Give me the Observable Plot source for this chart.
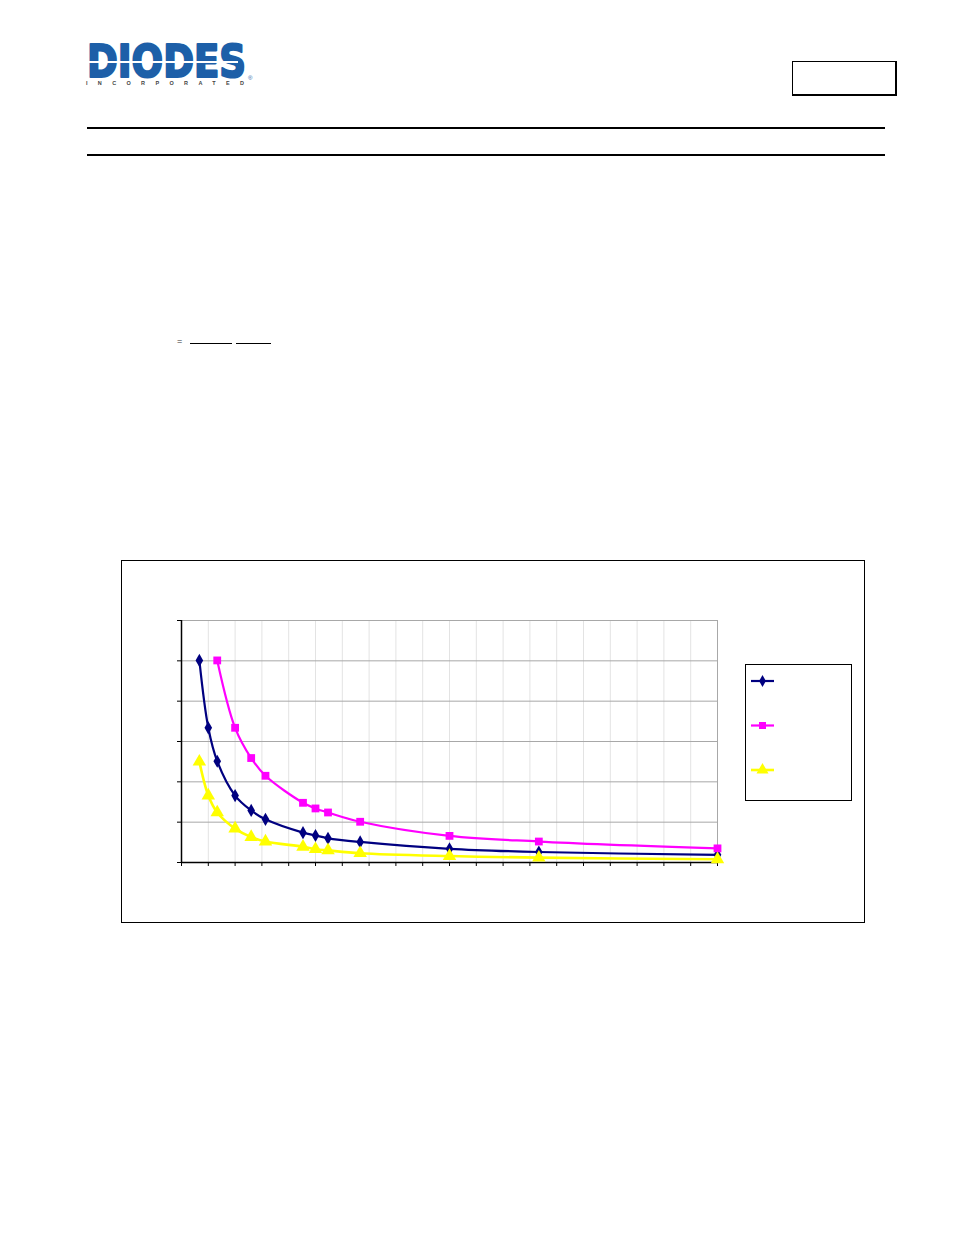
<!DOCTYPE html>
<html>
<head>
<meta charset="utf-8">
<script src="https://cdn.jsdelivr.net/npm/d3@7"></script>
<script src="https://cdn.jsdelivr.net/npm/@observablehq/plot@0.6"></script>
<style>
  html, body { margin: 0; padding: 0; background: #fff; }
  body { width: 954px; height: 1235px; position: relative; overflow: hidden; font-family: "Liberation Sans", Arial, sans-serif; }
  .abs { position: absolute; }
  #chartbox { position: absolute; left: 121px; top: 560px; width: 742px; height: 361px; border: 1px solid #000; }
  #chart { position: absolute; left: 0; top: 0; }
  #legend { position: absolute; left: 745px; top: 664px; width: 105px; height: 135px; border: 1px solid #000; background: #fff; }
</style>
</head>
<body>
<!-- logo -->
<svg class="abs" style="left:80px;top:16px;overflow:visible" width="190" height="86">
  <text font-family="DejaVu Sans, Liberation Sans, Arial" font-weight="bold">
    <tspan x="7" y="61" font-size="44" fill="#1d5fa8" stroke="#1d5fa8" stroke-width="2.2" stroke-linejoin="round" textLength="159" lengthAdjust="spacingAndGlyphs">DIODES</tspan>
    <tspan x="6" y="69" font-family="Liberation Sans, Arial" font-size="5.5" fill="#444" stroke="none" textLength="158" lengthAdjust="spacing">INCORPORATED</tspan>
    <tspan x="168" y="64" font-family="Liberation Sans, Arial" font-weight="normal" font-size="6" fill="#1d5fa8" stroke="none">®</tspan>
  </text>
  <rect x="6" y="45" width="152" height="2" fill="#fff"></rect>
</svg>
<div class="abs" style="left:792px;top:61px;width:102px;height:32px;border:1px solid #000;border-right-width:2px;border-bottom-width:2px;"></div>
<div class="abs" style="left:87px;top:127px;width:798px;height:2px;background:#000;"></div>
<div class="abs" style="left:87px;top:154px;width:798px;height:2px;background:#000;"></div>
<div class="abs" style="left:177px;top:336px;font-size:9px;color:#333;">=</div>
<div class="abs" style="left:190px;top:343px;width:42px;height:1px;background:#000;"></div>
<div class="abs" style="left:236px;top:343px;width:35px;height:1px;background:#000;"></div>

<div id="chartbox"><div id="chart"></div></div>
<div id="legend"></div>

<script>
// x values (resistance-like) and y values
const xNavy    = [10, 15, 20, 30, 39, 47, 68, 75, 82, 100, 150, 200, 300];
const yNavy    = [501, 334, 251, 166, 129, 107, 74, 67, 60, 51, 34, 26, 19];
const xMagenta = [20, 30, 39, 47, 68, 75, 82, 100, 150, 200, 300];
const yMagenta = [501, 334, 259, 215, 148, 134, 124, 101, 66, 52, 35];
const xYellow  = [10, 15, 20, 30, 39, 47, 68, 75, 82, 100, 150, 200, 300];
const yYellow  = [250, 166, 124, 84, 63, 52, 39, 33, 30, 23, 16, 12, 8];

const xTicks = d3.range(0, 301, 15);
const yTicks = d3.range(0, 601, 100);

const series = [
  {name: "A", xs: xNavy, ys: yNavy, color: "#000080", symbol: "diamond", r: 4.0, sw: 2.2},
  {name: "B", xs: xMagenta, ys: yMagenta, color: "#ff00ff", symbol: "square", r: 4.4, sw: 2.2},
  {name: "C", xs: xYellow, ys: yYellow, color: "#ffff00", symbol: "triangle", r: 5, sw: 2.6}
];

const marks = [
  Plot.ruleX(xTicks.slice(1, -1), {stroke: "#e3e3e3", strokeWidth: 1}),
  Plot.ruleY(yTicks.slice(1), {stroke: "#a8a8a8", strokeWidth: 1}),
  Plot.ruleX([300], {stroke: "#a8a8a8", strokeWidth: 1}),
  Plot.axisX({ticks: xTicks, tickSize: 4, tickFormat: () => "", label: null, stroke: "#000"}),
  Plot.axisY({ticks: yTicks, tickSize: 4, tickFormat: () => "", label: null, stroke: "#000"}),
  Plot.ruleY([0], {stroke: "#000", strokeWidth: 1.5}),
  Plot.ruleX([0], {stroke: "#000", strokeWidth: 1.5})
];

for (const s of series) {
  const data = s.xs.map((x, i) => ({x, y: s.ys[i]}));
  marks.push(Plot.line(data, {x: "x", y: "y", stroke: s.color, strokeWidth: s.sw, curve: "catmull-rom"}));
  marks.push(Plot.dot(data, {x: "x", y: "y", symbol: () => s.symbol, fill: s.color, stroke: "none", r: s.r}));
}

const chart = Plot.plot({
  width: 742,
  height: 361,
  marginLeft: 59,
  marginRight: 147,
  marginTop: 59,
  marginBottom: 60,
  style: {background: "transparent", overflow: "visible"},
  x: {domain: [0, 300], axis: null, label: null},
  y: {domain: [0, 600], axis: null, label: null},
  symbol: {type: "identity"},
  marks
});
document.getElementById("chart").appendChild(chart);

// legend (lines with markers, no text in reference)
const legend = d3.select("#legend").append("svg").attr("width", 105).attr("height", 135);
const symMap = {diamond: d3.symbolDiamond, square: d3.symbolSquare, triangle: d3.symbolTriangle};
series.forEach((s, i) => {
  const cy = 16 + i * 44.5;
  legend.append("line").attr("x1", 5).attr("x2", 28).attr("y1", cy).attr("y2", cy)
    .attr("stroke", s.color).attr("stroke-width", s.sw);
  legend.append("path").attr("transform", `translate(16.5,${cy})`)
    .attr("d", d3.symbol(symMap[s.symbol], Math.PI * s.r * s.r * 0.8)())
    .attr("fill", s.color);
});
</script>
</body>
</html>
